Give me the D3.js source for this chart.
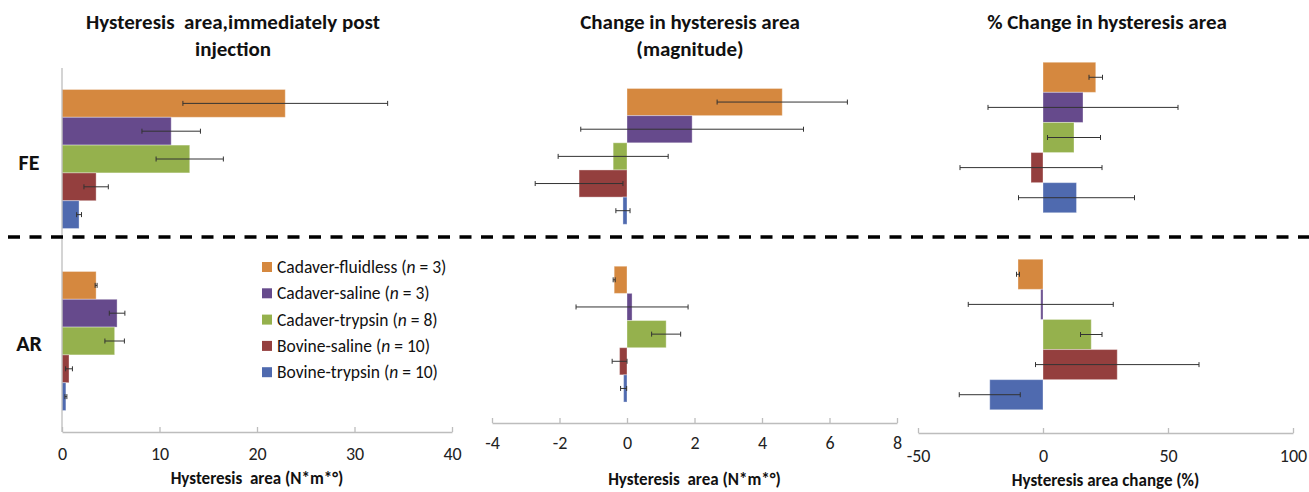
<!DOCTYPE html>
<html>
<head>
<meta charset="utf-8">
<script src="https://cdn.jsdelivr.net/npm/d3@7"></script>
<style>
  html, body { margin: 0; padding: 0; background: #fff; }
  svg { display: block; }
  text { font-family: Carlito, Lato, "Open Sans", sans-serif; white-space: pre; }
</style>
</head>
<body>
<svg id="chart" width="1309" height="492"></svg>
<script>
// ---------- data ----------
const categories = ["FE", "AR"];
const seriesNames = ["Cadaver-fluidless", "Cadaver-saline", "Cadaver-trypsin", "Bovine-saline", "Bovine-trypsin"];
const seriesN = [3, 3, 8, 10, 10];
const seriesColors = ["#D5883F", "#664A8C", "#95B14D", "#943F3E", "#4F6AAF"];

// per series: [FE, AR]
const areaMean = [[22.9, 3.5], [11.2, 5.65], [13.1, 5.4], [3.5, 0.72], [1.75, 0.4]];
const areaErr  = [[10.5, 0.1], [3.0, 0.8], [3.45, 1.0], [1.25, 0.35], [0.25, 0.1]];

const changeMean = [[4.6, -0.38], [1.93, 0.15], [-0.41, 1.16], [-1.42, -0.22], [-0.12, -0.1]];
const changeErr  = [[1.93, 0.03], [3.3, 1.66], [1.63, 0.43], [1.3, 0.22], [0.21, 0.09]];

const pctMean = [[21.1, -10.0], [16.0, -0.9], [12.4, 19.3], [-4.8, 29.7], [13.4, -21.3]];
const pctErr  = [[2.7, 0.6], [38.0, 29.0], [10.6, 4.3], [28.4, 32.7], [23.2, 12.2]];

const areaTicks = [0, 10, 20, 30, 40];
const changeTicks = [-4, -2, 0, 2, 4, 6, 8];
const pctTicks = [-50, 0, 50, 100];

const titles1 = ["Hysteresis  area,immediately post", "injection"];
const titles2 = ["Change in hysteresis area", "(magnitude)"];
const titles3 = ["% Change in hysteresis area"];
const axisTitle1 = "Hysteresis  area (N*m*°)";
const axisTitle2 = "Hysteresis  area (N*m*°)";
const axisTitle3 = "Hysteresis area change (%)";

// ---------- drawing ----------
const svg = d3.select("#chart");
const FONT = "Carlito, Lato, 'Open Sans', sans-serif";

const panels = [
  { mean: areaMean, err: areaErr, ticks: areaTicks, x0: 62, x1: 452, y0: 68, y1: 432,
    tickY: 454, axTitle: axisTitle1, axTitleY: 478, titles: titles1, titleX: 233, vAxis: true },
  { mean: changeMean, err: changeErr, ticks: changeTicks, x0: 492, x1: 897, y0: 67.5, y1: 423,
    tickY: 443, axTitle: axisTitle2, axTitleY: 479, titles: titles2, titleX: 690, vAxis: false },
  { mean: pctMean, err: pctErr, ticks: pctTicks, x0: 918, x1: 1293, y0: 39, y1: 433,
    tickY: 456, axTitle: axisTitle3, axTitleY: 480, titles: titles3, titleX: 1107, vAxis: false }
];

panels.forEach(p => {
  const ext = d3.extent(p.ticks);
  const x = d3.scaleLinear().domain(ext).range([p.x0, p.x1]);
  const y = d3.scaleBand().domain(categories).range([p.y0, p.y1]).paddingInner(0.236).paddingOuter(0.118);
  const ys = d3.scaleBand().domain(d3.range(seriesNames.length)).range([0, y.bandwidth()]);

  const g = svg.append("g");

  // title
  p.titles.forEach((t, i) => {
    g.append("text").attr("x", p.titleX).attr("y", 29 + i * 27)
      .attr("text-anchor", "middle").attr("font-weight", "bold")
      .attr("font-size", 21).attr("fill", "#111").text(t);
  });

  // bars
  categories.forEach((c, ci) => {
    seriesNames.forEach((s, si) => {
      const v = p.mean[si][ci];
      const top = y(c) + ys(si);
      g.append("rect")
        .attr("x", Math.min(x(0), x(v)))
        .attr("y", top)
        .attr("width", Math.abs(x(v) - x(0)))
        .attr("height", ys.bandwidth())
        .attr("fill", seriesColors[si])
        .attr("stroke", "rgba(255,255,255,0.35)")
        .attr("stroke-width", 1);
    });
  });

  // error bars
  categories.forEach((c, ci) => {
    seriesNames.forEach((s, si) => {
      const v = p.mean[si][ci], e = p.err[si][ci];
      const cy = y(c) + ys(si) + ys.bandwidth() / 2;
      const xl = x(v - e), xr = x(v + e);
      const eg = g.append("g").attr("stroke", "#333").attr("stroke-width", 1);
      eg.append("line").attr("x1", xl).attr("x2", xr).attr("y1", cy).attr("y2", cy);
      eg.append("line").attr("x1", xl).attr("x2", xl).attr("y1", cy - 2.5).attr("y2", cy + 2.5);
      eg.append("line").attr("x1", xr).attr("x2", xr).attr("y1", cy - 2.5).attr("y2", cy + 2.5);
    });
  });

  // x axis
  const ax = g.append("g").attr("transform", `translate(0,${p.y1})`)
    .call(d3.axisBottom(x).tickValues(p.ticks).tickSizeInner(-5).tickSizeOuter(0).tickFormat(d => String(d)));
  ax.select(".domain").attr("stroke", "#bdbdbd").attr("stroke-width", 1.3);
  ax.selectAll(".tick line").attr("stroke", "#bdbdbd").attr("stroke-width", 1.3);
  ax.selectAll(".tick text").attr("fill", "#222").attr("font-size", 18)
    .attr("font-family", FONT)
    .attr("y", p.tickY - p.y1).attr("dy", "0.35em");

  if (p.vAxis) {
    g.append("line").attr("x1", x(0)).attr("x2", x(0)).attr("y1", p.y0).attr("y2", p.y1)
      .attr("stroke", "#bdbdbd").attr("stroke-width", 1.3);
  }

  // axis title
  g.append("text").attr("x", (p.x0 + p.x1) / 2).attr("y", p.axTitleY).attr("dy", "0.35em")
    .attr("text-anchor", "middle").attr("font-weight", "bold").attr("font-size", 17)
    .attr("fill", "#111").text(p.axTitle);
});

// row labels
const rowY = { FE: 162, AR: 343 };
categories.forEach(c => {
  svg.append("text").attr("x", 29).attr("y", rowY[c]).attr("dy", "0.35em")
    .attr("text-anchor", "middle").attr("font-weight", "bold").attr("font-size", 22)
    .attr("fill", "#111").text(c);
});

// dashed separator
svg.append("line").attr("x1", 8).attr("x2", 1309).attr("y1", 237).attr("y2", 237)
  .attr("stroke", "#000").attr("stroke-width", 3.5).attr("stroke-dasharray", "12,9.5");

// legend
const lg = svg.append("g");
seriesNames.forEach((s, i) => {
  const cy = 267 + i * 26.3;
  lg.append("rect").attr("x", 262).attr("y", cy - 5).attr("width", 10).attr("height", 10)
    .attr("fill", seriesColors[i]);
  const t = lg.append("text").attr("x", 277).attr("y", cy).attr("dy", "0.35em")
    .attr("font-size", 17.5).attr("fill", "#111");
  t.append("tspan").text(s + " (");
  t.append("tspan").attr("font-style", "italic").text("n");
  t.append("tspan").text(" = " + seriesN[i] + ")");
});
</script>
</body>
</html>
